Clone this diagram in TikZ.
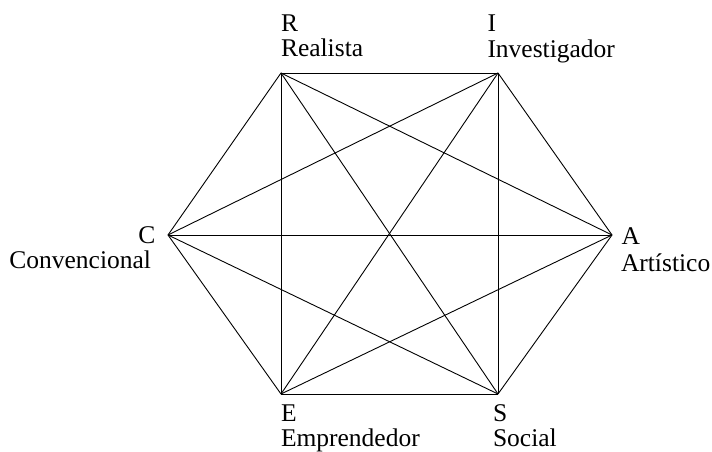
\documentclass[tikz,border=0pt]{standalone}
\usepackage{fontspec}
\setmainfont{Liberation Serif}
\begin{document}
\begin{tikzpicture}[x=1pt,y=1pt,
  edge/.style={line width=0.9pt, black},
  lbl/.style={inner sep=0pt, outer sep=0pt, font=\fontsize{25.5}{25.5}\selectfont}]
\useasboundingbox (0,0) rectangle (712,452);
\coordinate (R) at (281,379);
\coordinate (I) at (498,379);
\coordinate (A) at (612,217);
\coordinate (S) at (498,58);
\coordinate (E) at (281,58);
\coordinate (C) at (168,217);
\foreach \a/\b in {R/I,R/A,R/S,R/E,R/C,I/A,I/S,I/E,I/C,A/S,A/E,A/C,S/E,S/C,E/C}
  \draw[edge] (\a) -- (\b);
\node[lbl, anchor=base west] (rl1) at (281,420.3) {R};
\node[lbl, anchor=base west] (rl2) at (281,395) {Realista};
\node[lbl, anchor=base west] (il1) at (487.5,420.3) {I};
\node[lbl, anchor=base west] (il2) at (487.5,394.3) {Investigador};
\node[lbl, anchor=base east] (cl1) at (155.5,208.7) {C};
\node[lbl, anchor=base east] (cl2) at (151,183) {Convencional};
\node[lbl, anchor=base west] (al1) at (621.5,207) {A};
\node[lbl, anchor=base west] (al2) at (621,180) {Artístico};
\node[lbl, anchor=base west] (el1) at (281,30) {E};
\node[lbl, anchor=base west] (el2) at (281,5.8) {Emprendedor};
\node[lbl, anchor=base west] (sl1) at (493,30) {S};
\node[lbl, anchor=base west] (sl2) at (493,5.8) {Social};
\end{tikzpicture}
\end{document}
